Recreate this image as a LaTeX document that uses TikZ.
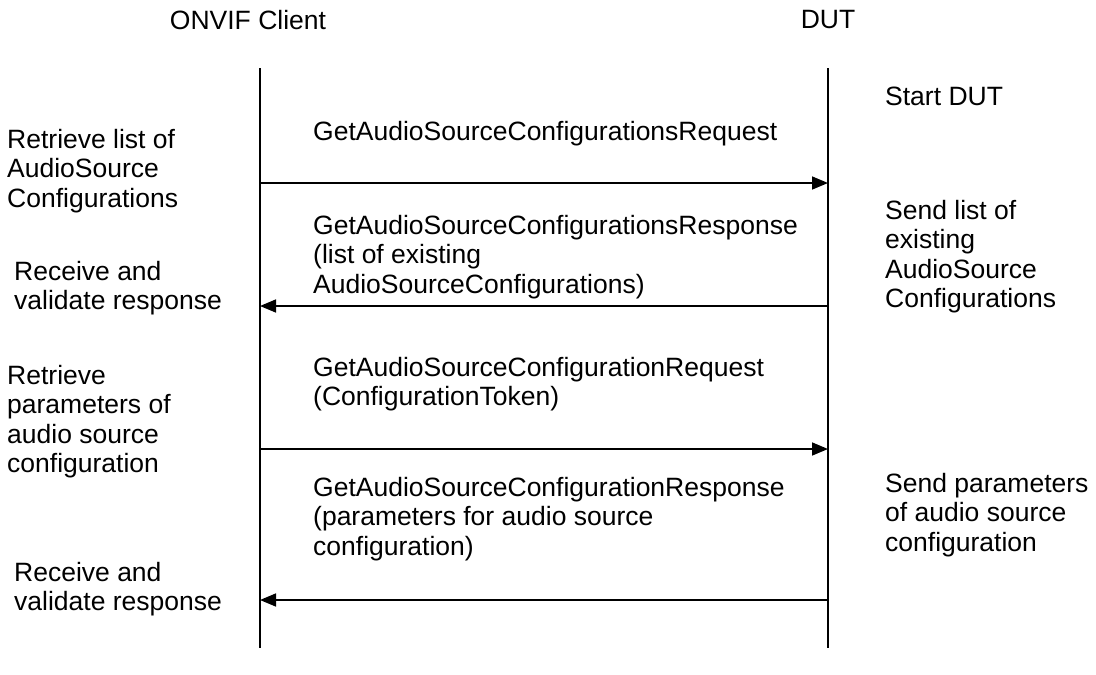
\documentclass[tikz,border=0pt]{standalone}
\usepackage{fontspec}
\setmainfont{Liberation Sans}
\usetikzlibrary{arrows.meta}
\begin{document}
\begin{tikzpicture}[x=1pt,y=-1pt,
  txt/.style={inner sep=0pt, anchor=north west, align=left, font=\fontsize{26.5}{29.5}\selectfont},
  head/.style={inner sep=0pt, anchor=north, font=\fontsize{26.5}{29.5}\selectfont},
  life/.style={line width=1.3pt},
  msg/.style={line width=1.6pt, -{Triangle[length=16pt,width=13pt]}}]
\useasboundingbox (0,0) rectangle (1096,675);
% headers
\node[head] (client) at (248,10) {ONVIF Client};
\node[head] (dut) at (828,10) {DUT};
% lifelines
\coordinate (ctop) at (260,68);
\coordinate (cbot) at (260,648);
\coordinate (dtop) at (828,68);
\coordinate (dbot) at (828,648);
\draw[life] (ctop) -- (cbot);
\draw[life] (dtop) -- (dbot);
% message anchor points
\coordinate (c1) at (260,183); \coordinate (d1) at (828,183);
\coordinate (c2) at (260,306); \coordinate (d2) at (828,306);
\coordinate (c3) at (260,449); \coordinate (d3) at (828,449);
\coordinate (c4) at (260,600); \coordinate (d4) at (828,600);
\draw[msg] (c1) -- (d1);
\draw[msg] (d2) -- (c2);
\draw[msg] (c3) -- (d3);
\draw[msg] (d4) -- (c4);
% message labels
\node[txt] (m1) at (313,121) {GetAudioSourceConfigurationsRequest};
\node[txt] (m2) at (313,215) {GetAudioSourceConfigurationsResponse\\(list of existing\\AudioSourceConfigurations)};
\node[txt] (m3) at (313,357) {GetAudioSourceConfigurationRequest\\(ConfigurationToken)};
\node[txt] (m4) at (313,477) {GetAudioSourceConfigurationResponse\\(parameters for audio source\\configuration)};
% client side notes
\node[txt] (l1) at (7,129) {Retrieve list of\\AudioSource\\Configurations};
\node[txt] (l2) at (14,261) {Receive and\\validate response};
\node[txt] (l3) at (7,365) {Retrieve\\parameters of\\audio source\\configuration};
\node[txt] (l4) at (14,562) {Receive and\\validate response};
% DUT side notes
\node[txt] (r0) at (885,87) {Start DUT};
\node[txt] (r1) at (885,200) {Send list of\\existing\\AudioSource\\Configurations};
\node[txt] (r2) at (885,473) {Send parameters\\of audio source\\configuration};
\end{tikzpicture}
\end{document}
